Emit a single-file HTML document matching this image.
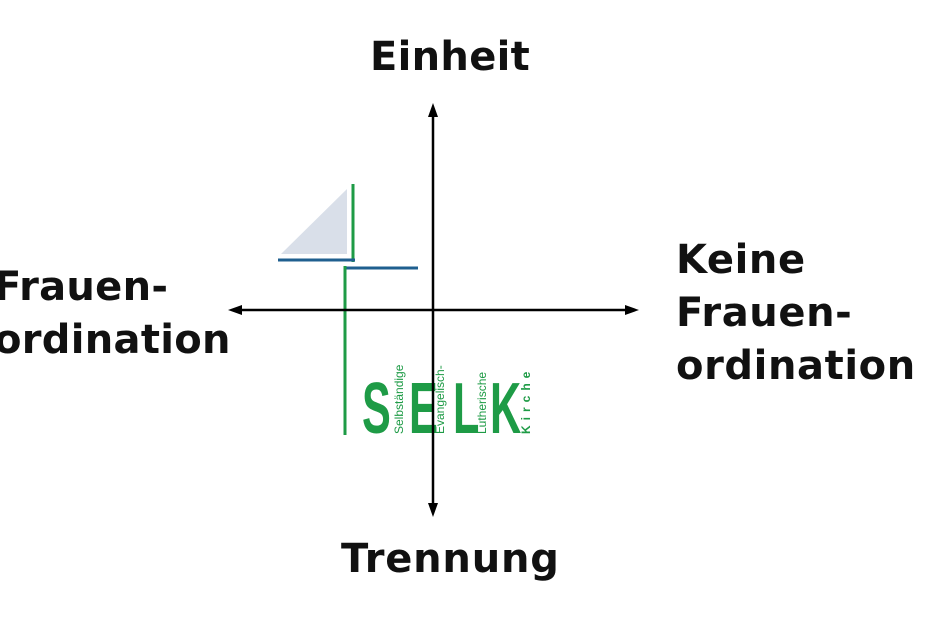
<!DOCTYPE html>
<html><head><style>
body{margin:0;width:930px;height:620px;background:#fff;overflow:hidden;position:relative;font-family:"DejaVu Sans","Liberation Sans",sans-serif}
.t{position:absolute;font-weight:bold;font-size:40px;color:#111;line-height:53px;white-space:nowrap}
</style></head><body>
<div class="t" style="left:370px;top:31px;letter-spacing:0.3px">Einheit</div>
<div class="t" style="left:341px;top:533px;letter-spacing:0.8px">Trennung</div>
<div class="t" style="left:-6px;top:261px;letter-spacing:0.3px">Frauen-<br>ordination</div>
<div class="t" style="left:676px;top:234px;letter-spacing:0.6px">Keine<br>Frauen-<br>ordination</div>
<svg width="930" height="620" style="position:absolute;left:0;top:0">
<polygon points="281,254 347,189 347,254" fill="#d9dfe9"/>
<line x1="353" y1="184" x2="353" y2="262" stroke="#1e9b46" stroke-width="3"/>
<line x1="278" y1="260" x2="355" y2="260" stroke="#1f5f8f" stroke-width="3"/>
<line x1="344" y1="268" x2="418" y2="268" stroke="#1f5f8f" stroke-width="3"/>
<line x1="345" y1="266" x2="345" y2="435" stroke="#1e9b46" stroke-width="3"/>
<g fill="#1e9b46" font-family="Liberation Sans Narrow,Liberation Sans,sans-serif">
<g font-weight="bold" font-size="72">
<text transform="translate(362,433) scale(0.6,1)">S</text>
<text transform="translate(409,433) scale(0.6,1)">E</text>
<text transform="translate(453,433) scale(0.6,1)">L</text>
<text transform="translate(490,433) scale(0.6,1)">K</text>
</g>
<text font-size="12" transform="translate(403,434) rotate(-90)">Selbständige</text>
<text font-size="12" transform="translate(444,434) rotate(-90)">Evangelisch-</text>
<text font-size="12" transform="translate(486,434) rotate(-90)">Lutherische</text>
<text font-size="12" font-weight="bold" letter-spacing="5" transform="translate(530,434) rotate(-90)">Kirche</text>
</g>
<g stroke="#000" stroke-width="2.5">
<line x1="433" y1="110" x2="433" y2="510"/>
<line x1="235" y1="310" x2="632" y2="310"/>
</g>
<g fill="#000">
<polygon points="433,103 428,117 438,117"/>
<polygon points="433,517 428,503 438,503"/>
<polygon points="228,310 242,305 242,315"/>
<polygon points="639,310 625,305 625,315"/>
</g>
</svg>
</body></html>
